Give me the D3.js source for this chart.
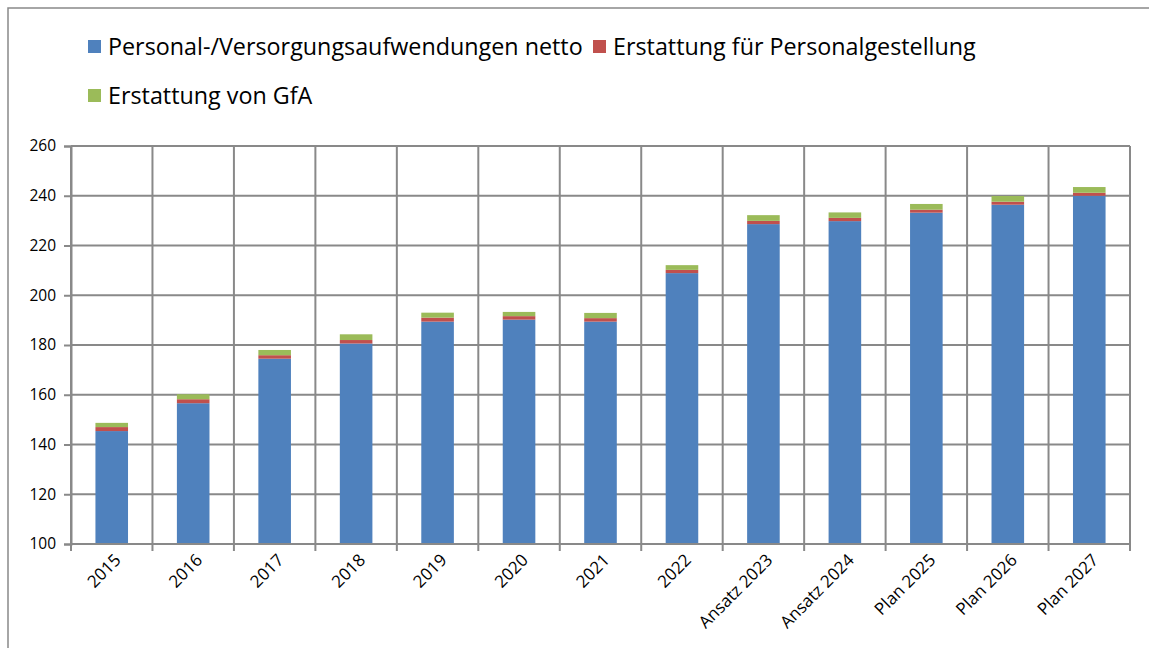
<!DOCTYPE html>
<html>
<head>
<meta charset="utf-8">
<script src="https://cdn.jsdelivr.net/npm/d3@7"></script>
<style>
  body { margin: 0; background: #fff; }
  svg { display: block; font-family: "Open Sans", sans-serif; }
</style>
</head>
<body>
<div id="chart"></div>
<script>
// Data
const categories = ["2015", "2016", "2017", "2018", "2019", "2020", "2021", "2022",
  "Ansatz 2023", "Ansatz 2024", "Plan 2025", "Plan 2026", "Plan 2027"];
const personal = [145.4, 156.6, 174.5, 180.6, 189.4, 190.2, 189.4, 208.9, 228.6, 229.8, 233.2, 236.4, 240.0];
const erstattungPersonal = [1.6, 1.6, 1.4, 1.4, 1.6, 1.4, 1.4, 1.3, 1.3, 1.3, 1.2, 1.2, 1.2];
const erstattungGfA = [1.7, 2.0, 2.1, 2.3, 2.0, 1.7, 2.1, 1.9, 2.3, 2.2, 2.3, 2.3, 2.3];
const seriesNames = ["Personal-/Versorgungsaufwendungen netto", "Erstattung für Personalgestellung", "Erstattung von GfA"];
const seriesColors = ["#4F81BD", "#C0504D", "#9BBB59"];
const yTicks = [100, 120, 140, 160, 180, 200, 220, 240, 260];

// Chart dimensions
const width = 1149;
const height = 648;
const plot = { left: 71, right: 1130, top: 146, bottom: 544 };
const gridColor = "#898989";

const svg = d3.select("#chart")
  .append("svg")
  .attr("width", width)
  .attr("height", height);

// Outer frame (top and left edges visible)
svg.append("path")
  .attr("d", `M8,${height} L8,8 L${width},8`)
  .attr("fill", "none")
  .attr("stroke", gridColor)
  .attr("stroke-width", 1.5);

// Build table for stacking
const table = categories.map((c, i) => ({
  cat: c,
  s0: personal[i],
  s1: erstattungPersonal[i],
  s2: erstattungGfA[i]
}));
const stacked = d3.stack().keys(["s0", "s1", "s2"])(table);

// Scales (axis starts at 100, so bars get clamped there)
const x = d3.scaleBand().domain(categories).range([plot.left, plot.right]).padding(0);
const y = d3.scaleLinear().domain([100, 260]).range([plot.bottom, plot.top]).clamp(true);
const barW = x.bandwidth() * 0.4;

// Y axis with ticks
const yAxis = svg.append("g")
  .attr("transform", `translate(${plot.left},0)`)
  .call(d3.axisLeft(y).tickValues(yTicks).tickSize(7).tickPadding(8).tickFormat(d3.format("d")));
yAxis.select(".domain").attr("stroke", gridColor).attr("stroke-width", 2);
yAxis.selectAll(".tick line").attr("stroke", gridColor).attr("stroke-width", 2);
yAxis.selectAll(".tick text").attr("fill", "#000").style("font-size", "15.5px")
  .style("font-family", "'Open Sans', sans-serif");

// Horizontal gridlines
svg.append("g")
  .selectAll("line")
  .data(yTicks.filter(t => t > 100))
  .join("line")
  .attr("x1", plot.left)
  .attr("x2", plot.right)
  .attr("y1", d => y(d))
  .attr("y2", d => y(d))
  .attr("stroke", gridColor)
  .attr("stroke-width", 2);

// Vertical gridlines at category boundaries
const boundaries = categories.map(c => x(c)).concat([plot.right]);
svg.append("g")
  .selectAll("line")
  .data(boundaries)
  .join("line")
  .attr("x1", d => d)
  .attr("x2", d => d)
  .attr("y1", plot.top)
  .attr("y2", plot.bottom + 7)
  .attr("stroke", gridColor)
  .attr("stroke-width", 2);

// Bars
svg.append("g")
  .selectAll("g")
  .data(stacked)
  .join("g")
  .attr("fill", (d, i) => seriesColors[i])
  .selectAll("rect")
  .data(d => d)
  .join("rect")
  .attr("x", d => x(d.data.cat) + (x.bandwidth() - barW) / 2)
  .attr("width", barW)
  .attr("y", d => y(d[1]))
  .attr("height", d => y(d[0]) - y(d[1]));

// X axis line drawn over the bar bottoms
svg.append("line")
  .attr("x1", plot.left).attr("x2", plot.right)
  .attr("y1", plot.bottom).attr("y2", plot.bottom)
  .attr("stroke", gridColor).attr("stroke-width", 2);

// X labels rotated
svg.append("g")
  .selectAll("text")
  .data(categories)
  .join("text")
  .attr("transform", d => `translate(${x(d) + x.bandwidth() / 2 + 6},${plot.bottom + 13}) rotate(-45)`)
  .attr("text-anchor", "end")
  .attr("dy", "0.35em")
  .style("font-size", "17px")
  .text(d => d);

// Legend
const legendItems = [
  { name: seriesNames[0], color: seriesColors[0], x: 88, y: 47 },
  { name: seriesNames[1], color: seriesColors[1], x: 593, y: 47 },
  { name: seriesNames[2], color: seriesColors[2], x: 88, y: 96 }
];
const legend = svg.append("g");
const lg = legend.selectAll("g")
  .data(legendItems)
  .join("g")
  .attr("transform", d => `translate(${d.x},${d.y})`);
lg.append("rect")
  .attr("x", 0).attr("y", -7)
  .attr("width", 13).attr("height", 13)
  .attr("fill", d => d.color);
const legendText = lg.append("text")
  .attr("x", 20)
  .attr("dy", "0.35em")
  .style("font-size", "21px")
  .text(d => d.name);

// Fit legend font to the reference width of the first entry
const w0 = legendText.nodes()[0].getComputedTextLength();
const fs = 21 * 475 / w0;
legendText.style("font-size", fs + "px");
</script>
</body>
</html>
